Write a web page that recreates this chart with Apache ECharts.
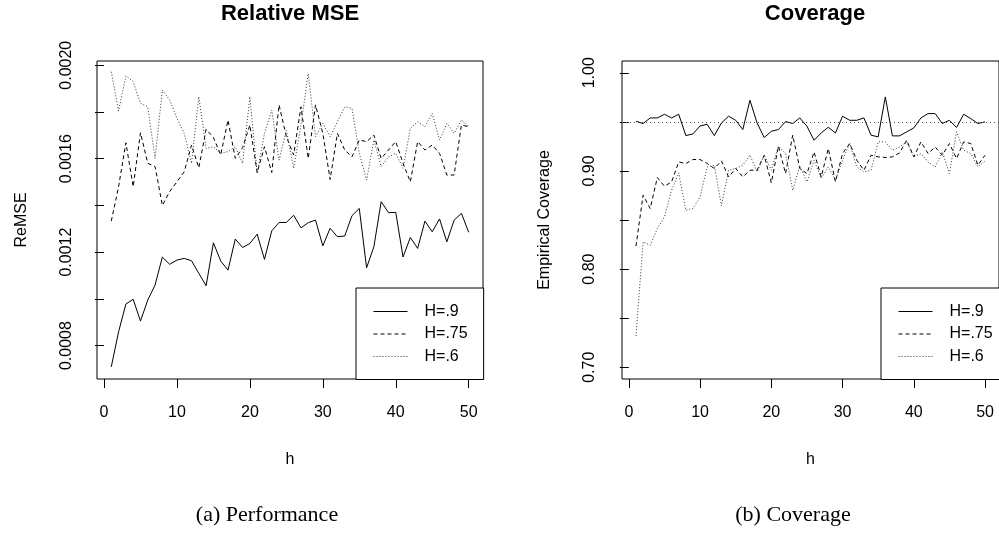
<!DOCTYPE html>
<html><head><meta charset="utf-8">
<script src="https://cdn.jsdelivr.net/npm/echarts@6/dist/echarts.min.js"></script>
<style>html,body{margin:0;padding:0;background:#fff}#c{width:999px;height:534px}</style>
</head><body><div id="c"></div>
<script>
const hValues = [1,2,3,4,5,6,7,8,9,10,11,12,13,14,15,16,17,18,19,20,21,22,23,24,25,26,27,28,29,30,31,32,33,34,35,36,37,38,39,40,41,42,43,44,45,46,47,48,49,50];
const seriesNames = ['H=.9','H=.75','H=.6'];

const mseH9 = [0.000709,0.000859,0.000978,0.000998,0.000905,0.000995,0.001059,0.001179,0.001148,0.001166,
  0.001173,0.001163,0.001109,0.001056,0.001240,0.001162,0.001123,0.001256,0.001220,0.001237,
  0.001277,0.001169,0.001291,0.001327,0.001327,0.001358,0.001304,0.001326,0.001337,0.001227,
  0.001302,0.001266,0.001269,0.001356,0.001387,0.001133,0.001223,0.001416,0.001369,0.001370,
  0.001179,0.001263,0.001216,0.001333,0.001287,0.001342,0.001244,0.001337,0.001366,0.001285];
const mseH75 = [0.001333,0.001480,0.001668,0.001480,0.001711,0.001580,0.001566,0.001400,0.001459,0.001501,
  0.001544,0.001658,0.001561,0.001726,0.001691,0.001616,0.001765,0.001601,0.001647,0.001744,
  0.001540,0.001651,0.001541,0.001830,0.001694,0.001616,0.001822,0.001601,0.001830,0.001708,
  0.001511,0.001708,0.001637,0.001608,0.001680,0.001673,0.001701,0.001601,0.001637,0.001673,
  0.001580,0.001501,0.001673,0.001637,0.001658,0.001623,0.001530,0.001530,0.001744,0.001737];
const mseH6 = [0.001972,0.001804,0.001954,0.001930,0.001837,0.001822,0.001601,0.001894,0.001851,0.001773,
  0.001708,0.001580,0.001865,0.001644,0.001651,0.001623,0.001630,0.001651,0.001580,0.001865,
  0.001537,0.001708,0.001808,0.001594,0.001720,0.001559,0.001744,0.001965,0.001694,0.001751,
  0.001694,0.001758,0.001822,0.001815,0.001623,0.001509,0.001680,0.001566,0.001608,0.001623,
  0.001559,0.001730,0.001758,0.001737,0.001794,0.001680,0.001751,0.001708,0.001765,0.001737];

const covH9 = [0.9506,0.9483,0.9540,0.9540,0.9577,0.9540,0.9577,0.9360,0.9377,0.9458,
  0.9475,0.9360,0.9489,0.9557,0.9516,0.9422,0.9720,0.9489,0.9340,0.9404,
  0.9422,0.9503,0.9483,0.9540,0.9455,0.9313,0.9387,0.9445,0.9387,0.9557,
  0.9516,0.9516,0.9540,0.9364,0.9347,0.9754,0.9357,0.9357,0.9398,0.9438,
  0.9540,0.9584,0.9584,0.9483,0.9516,0.9442,0.9577,0.9533,0.9483,0.9500];
const covH75 = [0.8233,0.8753,0.8617,0.8933,0.8844,0.8888,0.9092,0.9075,0.9116,0.9116,
  0.9075,0.9025,0.9102,0.8939,0.9025,0.8939,0.9007,0.9007,0.9160,0.8878,
  0.9252,0.8973,0.9364,0.9025,0.8973,0.9193,0.8939,0.9228,0.8888,0.9177,
  0.9279,0.9109,0.9007,0.9160,0.9143,0.9137,0.9143,0.9183,0.9313,0.9143,
  0.9296,0.9177,0.9244,0.9160,0.9279,0.9126,0.9296,0.9279,0.9058,0.9160];
const covH6 = [0.7317,0.8277,0.8243,0.8413,0.8532,0.8803,0.8980,0.8600,0.8617,0.8735,
  0.9041,0.9058,0.8644,0.9007,0.9025,0.9058,0.9160,0.8990,0.9160,0.9007,
  0.9252,0.9177,0.8803,0.9050,0.8888,0.9109,0.8923,0.9041,0.8905,0.9109,
  0.9279,0.9041,0.8990,0.9007,0.9296,0.9296,0.9211,0.9244,0.9296,0.9143,
  0.9177,0.9092,0.9041,0.9194,0.8973,0.9398,0.9211,0.9177,0.9041,0.9100];
const nominalCoverage = 0.95;

const xTicks = [0,10,20,30,40,50];
const mseTicks = [0.0008,0.0010,0.0012,0.0014,0.0016,0.0018,0.0020];
const mseLabels = [0.0008,0.0012,0.0016,0.0020];
const covTicks = [0.70,0.75,0.80,0.85,0.90,0.95,1.00];
const covLabels = [0.70,0.80,0.90,1.00];

const SANS = '"Liberation Sans", Arial, sans-serif';
const SERIF = '"Liberation Serif", "DejaVu Serif", serif';
const styles = [
  {color:'#000', width:1, type:'solid'},
  {color:'#000', width:1, type:[4,3]},
  {color:'#333', width:1, type:[1,2]}
];
const pairs = arr => hValues.map((h,i)=>[h,arr[i]]);

function xAxis(gi){
  return {type:'value', gridIndex:gi, min:-0.96, max:51.96,
    axisLine:{show:false}, splitLine:{show:false},
    axisTick:{show:true, length:9, customValues:xTicks, lineStyle:{color:'#000'}},
    axisLabel:{customValues:xTicks, fontSize:16, color:'#000', fontFamily:SANS, margin:26},
    name:'h', nameLocation:'middle', nameGap:73, nameTextStyle:{fontSize:16, color:'#000', fontFamily:SANS}};
}
function yAxis(gi, min, max, ticks, labels, dec, name, gap, margin){
  return {type:'value', gridIndex:gi, min:min, max:max,
    axisLine:{show:false}, splitLine:{show:false},
    axisTick:{show:true, length:9, customValues:ticks, lineStyle:{color:'#000'}},
    axisLabel:{customValues:labels, rotate:90, fontSize:16, color:'#000', fontFamily:SANS, margin:margin,
      formatter:v=>Number(v).toFixed(dec)},
    name:name, nameLocation:'middle', nameRotate:90, nameGap:gap,
    nameTextStyle:{fontSize:16, color:'#000', fontFamily:SANS}};
}
function line(name, gi, data, st, extra){
  return Object.assign({type:'line', name:name, xAxisIndex:gi, yAxisIndex:gi, data:pairs(data),
    showSymbol:false, symbol:'none', lineStyle:st, itemStyle:{color:st.color}, z:2, silent:true}, extra||{});
}
function legend(left){
  return {data:seriesNames, orient:'vertical', left:left, top:288, itemGap:6.5, itemWidth:34, itemHeight:16,
    padding:[15.5,16,15,17], borderColor:'#000', borderWidth:1, backgroundColor:'#fff',
    itemStyle:{opacity:0}, lineStyle:{width:1},
    textStyle:{fontSize:16, color:'#000', fontFamily:SANS, padding:[0,0,0,12]}, selectedMode:false, z:10};
}

const chart = echarts.init(document.getElementById('c'), null, {renderer:'canvas'});
chart.setOption({
  animation:false,
  backgroundColor:'#fff',
  title:[
    {text:'Relative MSE', left:290, top:3, textAlign:'center', padding:0,
      textStyle:{fontSize:22, fontWeight:'bold', color:'#000', fontFamily:SANS}},
    {text:'Coverage', left:815, top:3, textAlign:'center', padding:0,
      textStyle:{fontSize:22, fontWeight:'bold', color:'#000', fontFamily:SANS}}
  ],
  grid:[
    {left:97, top:61, width:386, height:318, show:true, borderColor:'#000', borderWidth:1, backgroundColor:'transparent'},
    {left:622, top:61, width:386, height:318, show:true, borderColor:'#000', borderWidth:1, backgroundColor:'transparent'}
  ],
  xAxis:[xAxis(0), xAxis(1)],
  yAxis:[
    yAxis(0, 0.000657, 0.002018, mseTicks, mseLabels, 4, 'ReMSE', 67, 22),
    yAxis(1, 0.688, 1.012, covTicks, covLabels, 2, 'Empirical Coverage', 69, 24)
  ],
  legend:[legend(356), legend(881)],
  series:[
    line(seriesNames[0],0,mseH9,styles[0]),
    line(seriesNames[1],0,mseH75,styles[1]),
    line(seriesNames[2],0,mseH6,styles[2]),
    line(seriesNames[0],1,covH9,styles[0],{markLine:{silent:true, symbol:['none','none'], label:{show:false},
      lineStyle:{color:'#555', width:1, type:[1,3]}, data:[{yAxis:nominalCoverage}]}}),
    line(seriesNames[1],1,covH75,styles[1]),
    line(seriesNames[2],1,covH6,styles[2])
  ],
  graphic:[
    {type:'text', style:{text:'(a) Performance', x:267, y:515, align:'center', verticalAlign:'middle',
      font:'22px '+SERIF, fill:'#000'}},
    {type:'text', style:{text:'(b) Coverage', x:793, y:515, align:'center', verticalAlign:'middle',
      font:'22px '+SERIF, fill:'#000'}}
  ]
});
</script></body></html>
